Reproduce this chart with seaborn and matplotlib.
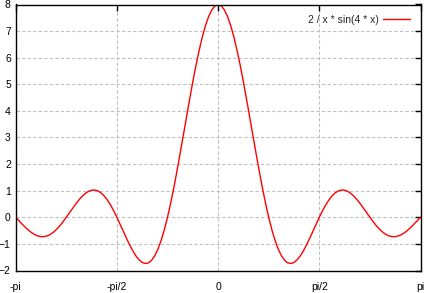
import numpy as np
import matplotlib
matplotlib.use("Agg")
import matplotlib.pyplot as plt
import seaborn as sns

# sample grid: 129 points from -pi to pi
x_values = np.linspace(-np.pi, np.pi, 129)
# curve values (right half, x = 0 .. pi), mirrored for the left half
y_right = [8.0, 7.9487, 7.796, 7.5453, 7.2025, 6.7754, 6.2737, 5.7087, 5.093,
           4.4401, 3.7642, 3.0797, 2.4008, 1.7412, 1.1137, 0.5299, 0.0,
           -0.4676, -0.8662, -1.1914, -1.4405, -1.6132, -1.711, -1.7374, -1.6977,
           -1.5984, -1.4478, -1.2547, -1.0289, -0.7806, -0.5197, -0.2564, 0.0,
           0.2409, 0.4586, 0.6467, 0.8003, 0.9156, 0.9906, 1.0246, 1.0186,
           0.9747, 0.8962, 0.7878, 0.6548, 0.503, 0.339, 0.1691, 0.0,
           -0.1622, -0.3118, -0.4438, -0.554, -0.6392, -0.6971, -0.7266, -0.7276,
           -0.7011, -0.649, -0.5742, -0.4802, -0.3711, -0.2515, -0.1262, 0.0]
y_values = y_right[:0:-1] + y_right

series_label = "2 / x * sin(4 * x)"
x_tick_pos = [-np.pi, -np.pi / 2, 0, np.pi / 2, np.pi]
x_tick_labels = ["-pi", "-pi/2", "0", "pi/2", "pi"]
y_ticks = [-2, -1, 0, 1, 2, 3, 4, 5, 6, 7, 8]

sns.set_style("white")
plt.rcParams['font.family'] = ['Liberation Sans', 'DejaVu Sans']

fig = plt.figure(figsize=(4.24, 2.93), dpi=100)
left, right, top, bottom = 15.7, 420.5, 4.5, 270.5
ax = fig.add_axes([left / 424, 1 - bottom / 293, (right - left) / 424, (bottom - top) / 293])

sns.lineplot(x=x_values, y=y_values, color="#ff0000", lw=1.0, label=series_label, ax=ax)

ax.set_xlim(-np.pi, np.pi)
ax.set_ylim(-2, 8)
ax.set_xticks(x_tick_pos)
ax.set_xticklabels(x_tick_labels)
ax.set_yticks(y_ticks)

ax.grid(True, color="#c0c0c0", linestyle=(0, (3, 2)), lw=0.8)
ax.set_axisbelow(True)
for s in ax.spines.values():
    s.set_color("black")
    s.set_linewidth(1.0)
    s.set_visible(True)

ax.tick_params(axis="both", which="major", direction="in", length=4, width=1,
               top=True, right=True, labelsize=7.5, colors="black")
ax.tick_params(axis="x", pad=8.5)
ax.tick_params(axis="y", pad=3.5)

leg = ax.legend(loc="upper right", frameon=False, markerfirst=False, fontsize=7.5,
                handlelength=2.6, handletextpad=0.4, borderaxespad=0.6)

fig.savefig("out.png", dpi=100)
